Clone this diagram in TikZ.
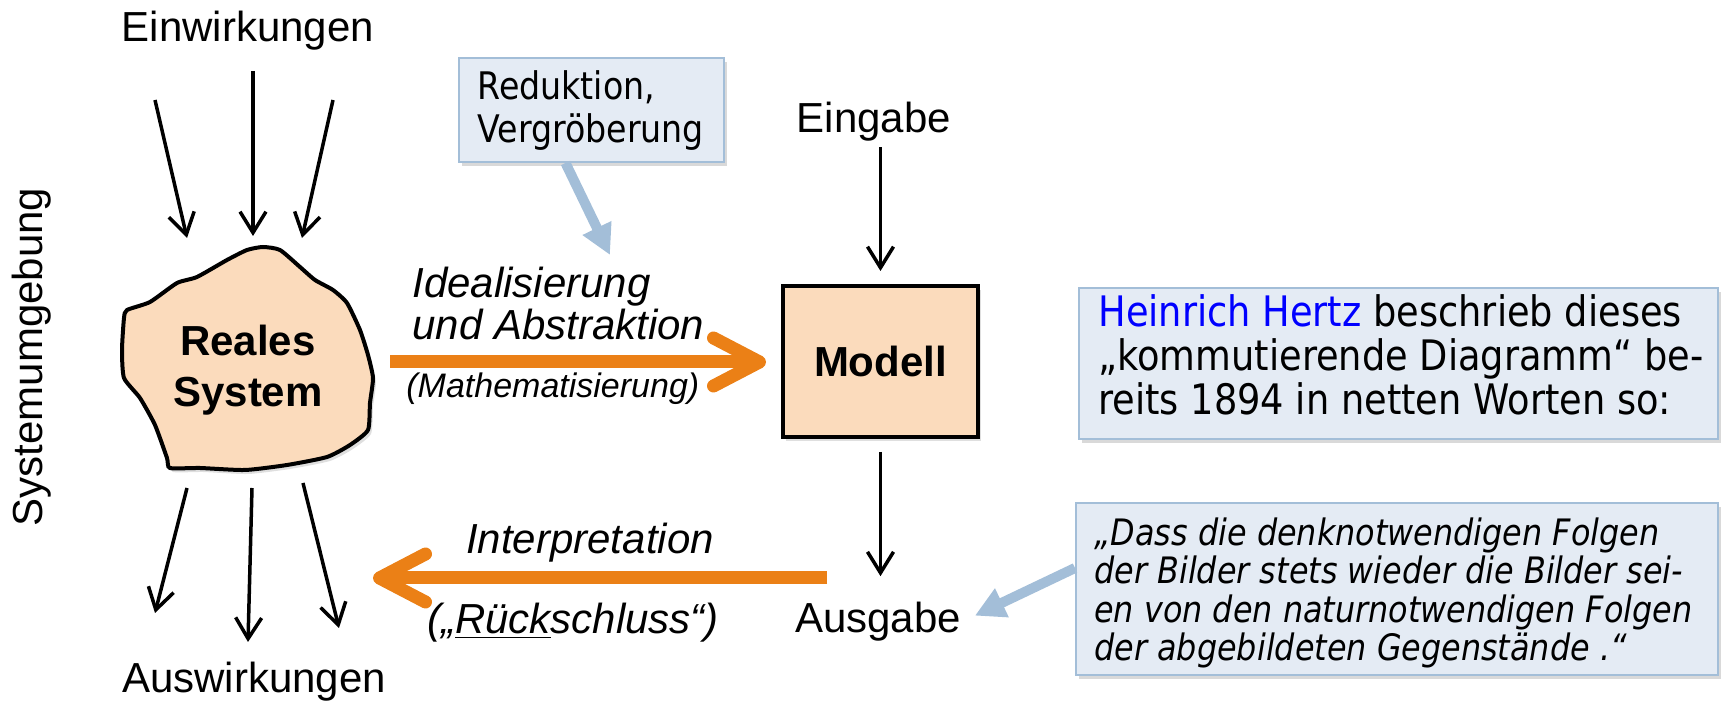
\documentclass[tikz,border=0pt]{standalone}
\usepackage{fontspec}
\setmainfont{Liberation Sans}
\newfontfamily\calloutfont[FakeStretch=0.875]{DejaVu Sans}
\usetikzlibrary{arrows.meta,shadows,calc}

\definecolor{peach}{RGB}{251,219,188}
\definecolor{arrorange}{RGB}{235,128,22}
\definecolor{callfill}{RGB}{228,235,244}
\definecolor{calledge}{RGB}{163,190,216}
\definecolor{hertzblue}{RGB}{0,0,255}

\tikzset{
  lbl/.style={font=\fontsize{21}{25.5}\selectfont, inner sep=0pt},
  ilbl/.style={font=\fontsize{21}{21}\selectfont\itshape, inner sep=0pt},
  thinarr/.style={line width=1.75pt, -{Straight Barb[length=10.5pt,width=13pt]}},
  bigarr/.style={line width=6.5pt, arrorange, -{Straight Barb[round,length=23pt,width=24pt]}},
  callarr/.style={line width=5pt, calledge, -{Triangle[length=15pt,width=15pt]}},
  callbox/.style={draw=calledge, line width=1pt, fill=callfill, inner sep=0pt,
    drop shadow={shadow xshift=1.5pt, shadow yshift=-2pt, opacity=0.3}},
  calltext/.style={font=\calloutfont\fontsize{21}{22}\selectfont, align=left, inner sep=0pt},
  peachshape/.style={draw=black, line width=2pt, fill=peach,
    drop shadow={shadow xshift=1.5pt, shadow yshift=-2pt, opacity=0.25}},
}

\begin{document}
\begin{tikzpicture}[x=0.5pt,y=-0.5pt]
\useasboundingbox (0,0) rectangle (1721,705);

% the real system as an irregular lump
\draw[peachshape] plot[smooth cycle, tension=0.35] coordinates {
  (127,310) (150,302) (177,283) (197,277) (227,260) (247,250) (263,247)
  (280,250) (300,267) (315,280) (333,290) (347,303) (360,330) (368,355)
  (373,378) (370,403) (368,430) (350,445) (327,457) (287,465) (245,470)
  (200,468) (170,468) (167,458) (155,425) (140,398) (124,378) (122,350)
  (124,318)};
% (multi-line nodes: the base anchor sits on the last line)
\node[lbl, font=\bfseries\fontsize{21}{25.5}\selectfont, align=center, anchor=base]
  (real) at (248,407) {Reales\\System};

% environment labels
\node[lbl, anchor=base] (ein) at (248,42) {Einwirkungen};
\node[lbl, anchor=base] (aus) at (254,693) {Auswirkungen};
\node[lbl, anchor=base, rotate=90] (umg) at (42,357) {Systemumgebung};

% influences acting on the system
\coordinate (e1a) at (155,100); \coordinate (e1b) at (187,238);
\coordinate (e2a) at (253,71);  \coordinate (e2b) at (253,236);
\coordinate (e3a) at (333,100); \coordinate (e3b) at (302,238);
\draw[thinarr] (e1a) -- (e1b);
\draw[thinarr] (e2a) -- (e2b);
\draw[thinarr] (e3a) -- (e3b);

% effects leaving the system
\coordinate (a1a) at (187,488); \coordinate (a1b) at (155,613);
\coordinate (a2a) at (252,488); \coordinate (a2b) at (248,642);
\coordinate (a3a) at (303,483); \coordinate (a3b) at (339,628);
\draw[thinarr] (a1a) -- (a1b);
\draw[thinarr] (a2a) -- (a2b);
\draw[thinarr] (a3a) -- (a3b);

% model block with input and output
\node[draw=black, line width=2pt, fill=peach, minimum width=97.5pt, minimum height=75.5pt,
  font=\bfseries\fontsize{21}{25.5}\selectfont,
  drop shadow={shadow xshift=1.5pt, shadow yshift=-2pt, opacity=0.25}]
  (modell) at (880.5,361.5) {Modell};
\node[lbl, anchor=base] (eingabe) at (874,133) {Eingabe};
\node[lbl, anchor=base] (ausgabe) at (878,633) {Ausgabe};
\draw[thinarr, shorten <=2.5pt, shorten >=6.5pt] (eingabe.south -| modell.north) -- (modell.north);
\draw[thinarr, shorten <=6.5pt, shorten >=13pt] (modell.south) -- (modell.south |- ausgabe.north);

% idealisation arrow
\coordinate (idl) at (390,362);
\draw[bigarr, shorten >=7.5pt] (idl) -- (modell.west |- idl);
\node[ilbl, anchor=base west, align=left] (ideal) at (412,340) {Idealisierung\\und Abstraktion};
\node[inner sep=0pt, font=\fontsize{17}{20}\selectfont\itshape, anchor=base west]
  (math) at (406,398) {(Mathematisierung)};

% interpretation arrow
\coordinate (irs) at (827,578);
\coordinate (ire) at (373,578);
\draw[bigarr] (irs) -- (ire);
\node[ilbl, anchor=base] (interp) at (590,554) {Interpretation};
\node[ilbl, anchor=base] (rueck) at (573,634) {(„\underline{Rück}schluss“)};

% callout: reduction
\coordinate (redtip) at (610,255);
\node[callbox, minimum width=132.5pt, minimum height=52pt] (reduk) at (591.5,110) {};
\draw[callarr] ([xshift=-13pt]reduk.south) -- (redtip);
\node[calltext, font=\calloutfont\fontsize{19}{21.5}\selectfont, anchor=base west]
  (reduktxt) at (477,143) {Reduktion,\\Vergröberung};

% callout: Hertz
\node[callbox, minimum width=319.5pt, minimum height=75.5pt] (hertz) at (1398.5,363.5) {};
\node[calltext, anchor=base west] (hertztxt) at (1098,415)
  {{\color{hertzblue}Heinrich Hertz} beschrieb dieses\\„kommutierende Diagramm“ be-\\reits 1894 in netten Worten so:};

% callout: quotation
\node[callbox, minimum width=321pt, minimum height=86pt] (quote) at (1397,589) {};
\draw[callarr, shorten >=7.5pt] ([yshift=10.5pt]quote.west) -- (ausgabe.east);
\node[calltext, font=\calloutfont\itshape\fontsize{18.2}{19.25}\selectfont, anchor=base west]
  (quotetxt) at (1094,661)
  {„Dass die denknotwendigen Folgen\\der Bilder stets wieder die Bilder sei-\\en von den naturnotwendigen Folgen\\der abgebildeten Gegenstände .“};
\end{tikzpicture}
\end{document}
